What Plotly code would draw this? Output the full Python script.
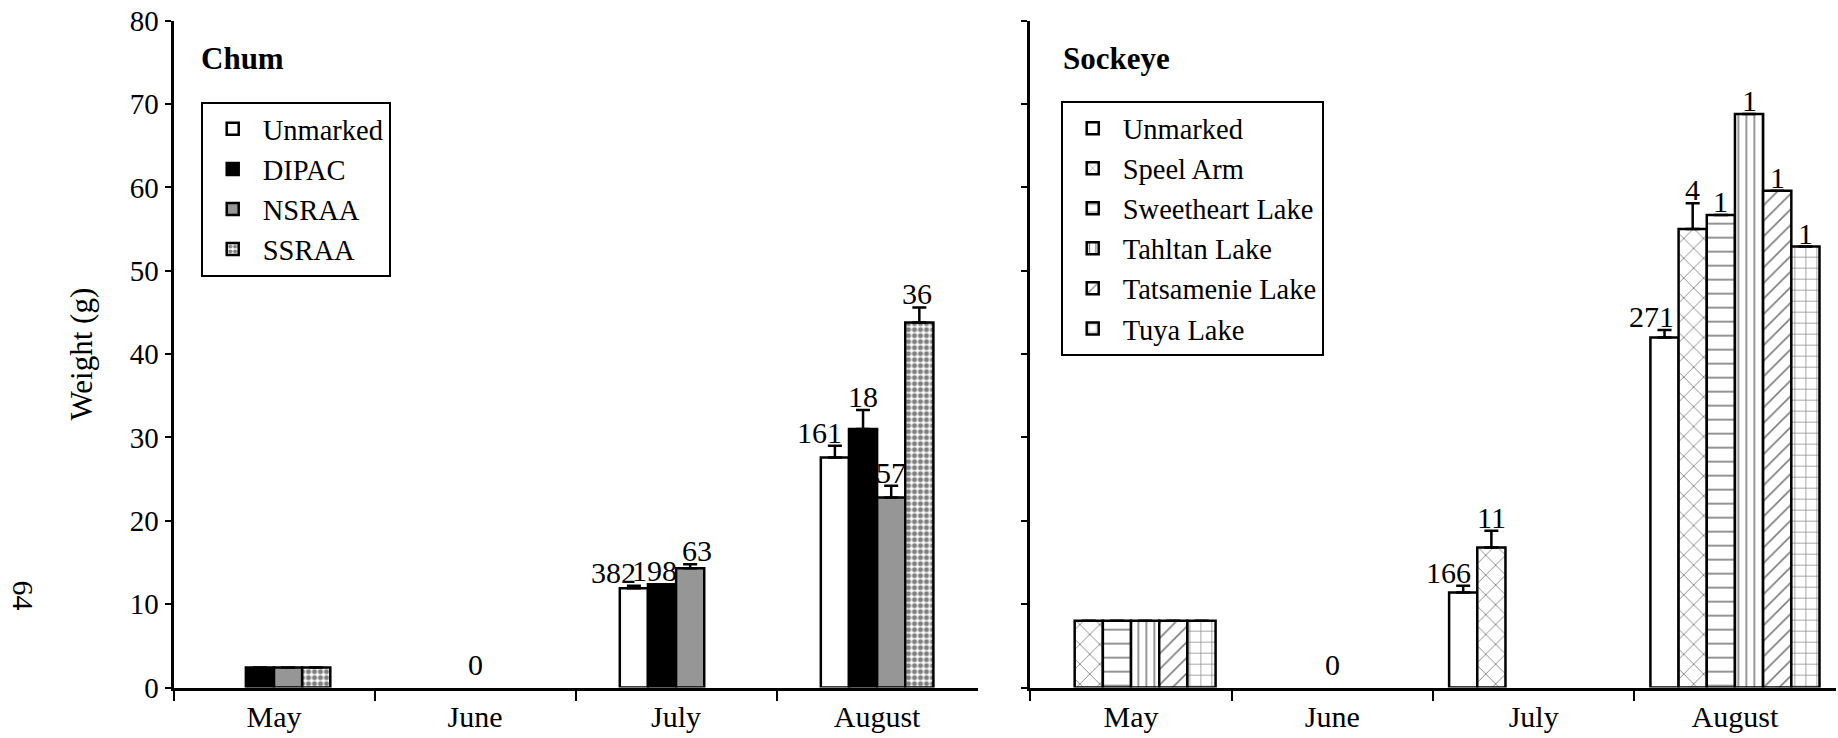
import plotly.graph_objects as go

months = ["May", "June", "July", "August"]

# Chum
chum_series = ["Unmarked", "DIPAC", "NSRAA", "SSRAA"]
chum_vals = {
    "Unmarked": [None, None, 11.9, 27.6],
    "DIPAC": [2.4, None, 12.4, 31.0],
    "NSRAA": [2.4, None, 14.3, 22.8],
    "SSRAA": [2.4, None, None, 43.8],
}
chum_err = {
    "Unmarked": [None, None, 0.3, 1.4],
    "DIPAC": [None, None, 0.0, 2.3],
    "NSRAA": [None, None, 0.5, 1.4],
    "SSRAA": [None, None, None, 1.8],
}
chum_n = {
    "Unmarked": [None, None, "382", "161"],
    "DIPAC": [None, None, "198", "18"],
    "NSRAA": [None, None, "63", "57"],
    "SSRAA": [None, None, None, "36"],
}
chum_zero = ["", "0", "", ""]

# Sockeye
sock_series = ["Unmarked", "Speel Arm", "Sweetheart Lake", "Tahltan Lake",
               "Tatsamenie Lake", "Tuya Lake"]
sock_vals = {
    "Unmarked": [None, None, 11.4, 42.0],
    "Speel Arm": [8.0, None, 16.8, 55.0],
    "Sweetheart Lake": [8.0, None, None, 56.7],
    "Tahltan Lake": [8.0, None, None, 68.8],
    "Tatsamenie Lake": [8.0, None, None, 59.6],
    "Tuya Lake": [8.0, None, None, 52.9],
}
sock_err = {
    "Unmarked": [None, None, 0.8, 0.9],
    "Speel Arm": [None, None, 2.0, 3.1],
    "Sweetheart Lake": [None, None, None, 0.0],
    "Tahltan Lake": [None, None, None, 0.0],
    "Tatsamenie Lake": [None, None, None, 0.0],
    "Tuya Lake": [None, None, None, 0.0],
}
sock_n = {
    "Unmarked": [None, None, "166", "271"],
    "Speel Arm": [None, None, "11", "4"],
    "Sweetheart Lake": [None, None, None, "1"],
    "Tahltan Lake": [None, None, None, "1"],
    "Tatsamenie Lake": [None, None, None, "1"],
    "Tuya Lake": [None, None, None, "1"],
}
sock_zero = ["", "0", "", ""]

# ---------------- styles ----------------
FONT = "Liberation Serif"
BW = 0.14
chum_style = {
    "Unmarked": dict(color="white"),
    "DIPAC": dict(color="black"),
    "NSRAA": dict(color="#969696"),
    "SSRAA": dict(color="white", pattern=dict(shape=".", fgcolor="black", bgcolor="white", size=6, solidity=0.55)),
}
sock_style = {
    "Unmarked": dict(color="white"),
    "Speel Arm": dict(color="white", pattern=dict(shape="x", fgcolor="black", bgcolor="white", size=14, solidity=0.12)),
    "Sweetheart Lake": dict(color="white", pattern=dict(shape="-", fgcolor="black", bgcolor="white", size=14, solidity=0.12)),
    "Tahltan Lake": dict(color="white", pattern=dict(shape="|", fgcolor="black", bgcolor="white", size=8, solidity=0.2)),
    "Tatsamenie Lake": dict(color="white", pattern=dict(shape="/", fgcolor="black", bgcolor="white", size=11, solidity=0.15)),
    "Tuya Lake": dict(color="white", pattern=dict(shape="+", fgcolor="black", bgcolor="white", size=11, solidity=0.12)),
}
# label horizontal nudges (px) by series / month
chum_lab_shift = {"Unmarked": [0, 0, -20, -15], "DIPAC": [0, 0, -8, 0],
                  "NSRAA": [0, 0, 7, 0], "SSRAA": [0, 0, 0, -2]}
sock_lab_shift = {s: [0, 0, 0, 0] for s in sock_series}
sock_lab_shift["Unmarked"] = [0, 0, -15, -13]

LABEL_FONT = dict(family=FONT, size=30, color="black")

fig = go.Figure()
annotations = []


def add_panel(series, vals, errs, ns, styles, shifts, zero, xa, ya, legend):
    n = len(series)
    for i, s in enumerate(series):
        off = -n * BW / 2 + i * BW
        err = [e if e is not None else 0 for e in errs[s]]
        fig.add_trace(go.Bar(
            x=months, y=vals[s], name=s, width=BW, offset=off,
            marker=dict(line=dict(color="black", width=2.5), **styles[s]),
            error_y=dict(type="data", array=err, arrayminus=[0] * len(err), symmetric=False,
                         color="black", thickness=2.5, width=7, visible=True),
            xaxis=xa, yaxis=ya, legend=legend,
        ))
        for j, m in enumerate(months):
            if ns[s][j] is None or vals[s][j] is None:
                continue
            annotations.append(dict(
                x=j + off + BW / 2, y=vals[s][j] + (errs[s][j] or 0),
                xref=xa, yref=ya, text=ns[s][j], showarrow=False,
                yanchor="bottom", xanchor="center", yshift=-5, xshift=shifts[s][j],
                font=LABEL_FONT))
    for j, z in enumerate(zero):
        if z:
            annotations.append(dict(x=j, y=0, xref=xa, yref=ya, text=z, showarrow=False,
                                    yanchor="bottom", yshift=5, font=LABEL_FONT))


add_panel(chum_series, chum_vals, chum_err, chum_n, chum_style, chum_lab_shift, chum_zero,
          "x", "y", "legend")
add_panel(sock_series, sock_vals, sock_err, sock_n, sock_style, sock_lab_shift, sock_zero,
          "x2", "y2", "legend2")

annotations += [
    dict(x=0.1085, y=0.921, xref="paper", yref="paper", text="<b>Chum</b>", showarrow=False,
         xanchor="left", yanchor="middle", font=dict(family=FONT, size=31, color="black")),
    dict(x=0.5772, y=0.921, xref="paper", yref="paper", text="<b>Sockeye</b>", showarrow=False,
         xanchor="left", yanchor="middle", font=dict(family=FONT, size=31, color="black")),
    dict(x=0.0125, y=0.193, xref="paper", yref="paper", text="64", showarrow=False,
         xanchor="center", yanchor="middle",
         textangle=90, font=dict(family=FONT, size=30, color="black")),
]

axis_common = dict(showline=True, linecolor="black", linewidth=3, ticks="outside",
                   tickcolor="black", tickwidth=2, showgrid=False, zeroline=False,
                   automargin=False)

legend_common = dict(xanchor="left", yanchor="top", bordercolor="black", borderwidth=2,
                     bgcolor="white", font=dict(family=FONT, size=28.5, color="black"),
                     tracegroupgap=0, itemwidth=50)

fig.update_layout(
    width=1838, height=738,
    margin=dict(l=0, r=0, t=0, b=0, pad=0, autoexpand=False),
    paper_bgcolor="white", plot_bgcolor="white", barmode="overlay",
    font=dict(family=FONT, color="black"),
    xaxis=dict(domain=[0.0944, 0.5319], type="category", categoryorder="array",
               categoryarray=months, range=[-0.5, 3.5], tickson="boundaries",
               ticklen=10, anchor="y", tickfont=dict(family=FONT, size=30, color="black"),
               **axis_common),
    yaxis=dict(domain=[0.0684, 0.972], range=[0, 80], dtick=10, ticklen=6, anchor="x",
               tickfont=dict(family=FONT, size=29, color="black"),
               title=dict(text="Weight (g)", font=dict(family=FONT, size=31, color="black"),
                          standoff=28),
               **axis_common),
    xaxis2=dict(domain=[0.5606, 0.9987], type="category", categoryorder="array",
                categoryarray=months, range=[-0.5, 3.5], tickson="boundaries",
                ticklen=10, anchor="y2", tickfont=dict(family=FONT, size=30, color="black"),
                **axis_common),
    yaxis2=dict(domain=[0.0684, 0.972], range=[0, 80], dtick=10, ticklen=6, anchor="x2",
                showticklabels=False, **axis_common),
    legend=dict(x=0.1092, y=0.862, entrywidth=165, entrywidthmode="pixels", **legend_common),
    legend2=dict(x=0.5771, y=0.863, **legend_common),
    annotations=annotations,
    showlegend=True,
)

fig.write_html("out.html", config={"displayModeBar": False},
               post_script="document.body.style.margin='0';")
